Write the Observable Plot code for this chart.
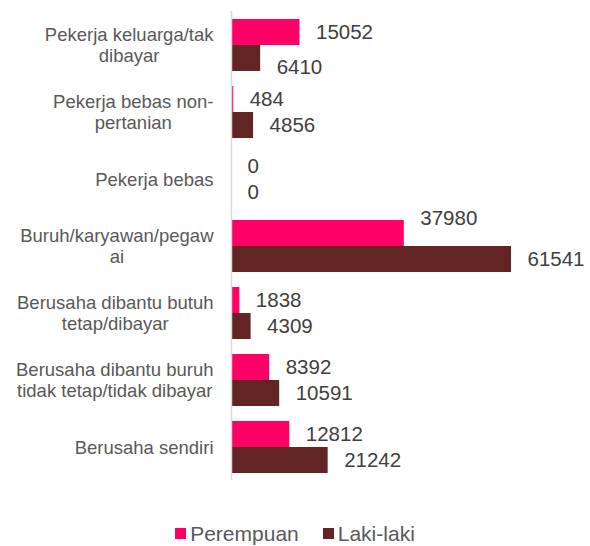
<!DOCTYPE html>
<html>
<head>
<meta charset="utf-8">
<script src="https://cdn.jsdelivr.net/npm/d3@7"></script>
<script src="https://cdn.jsdelivr.net/npm/@observablehq/plot@0.6"></script>
<style>
  html, body { margin: 0; padding: 0; background: #fff; }
  #wrap { position: relative; width: 590px; height: 546px; overflow: hidden; font-family: "Liberation Sans", Arial, sans-serif; }
  #legend { position: absolute; left: 0; top: 521px; width: 590px; height: 25px; display: flex; justify-content: center; align-items: center; font-size: 21px; line-height: 22px; color: #595959; }
  #legend .item { display: flex; align-items: center; }
  #legend .sw { width: 11px; height: 11px; margin-right: 4px; }
  #legend .item + .item { margin-left: 24px; }
</style>
</head>
<body>
<div id="wrap">
  <div id="chart"></div>
  <div id="legend"></div>
</div>
<script>
// ---- data ----
const categories = [
  "Pekerja keluarga/tak dibayar",
  "Pekerja bebas non-pertanian",
  "Pekerja bebas",
  "Buruh/karyawan/pegawai",
  "Berusaha dibantu butuh tetap/dibayar",
  "Berusaha dibantu buruh tidak tetap/tidak dibayar",
  "Berusaha sendiri"
];
const categoryLabels = [
  "Pekerja keluarga/tak\ndibayar",
  "Pekerja bebas non-\npertanian",
  "Pekerja bebas",
  "Buruh/karyawan/pegaw\nai",
  "Berusaha dibantu butuh\ntetap/dibayar",
  "Berusaha dibantu buruh\ntidak tetap/tidak dibayar",
  "Berusaha sendiri"
];
const series = ["Perempuan", "Laki-laki"];
const perempuan = [15052, 484, 0, 37980, 1838, 8392, 12812];
const lakiLaki = [6410, 4856, 0, 61541, 4309, 10591, 21242];
const colors = ["#FF0066", "#632523"];

// ---- table ----
const rows = [];
categories.forEach((c, i) => {
  rows.push({category: c, series: series[0], value: perempuan[i]});
  rows.push({category: c, series: series[1], value: lakiLaki[i]});
});

// label nudges (layout only, mimicking the reference's collision-avoided labels)
const nudge = new Map([
  ["Pekerja keluarga/tak dibayar|Laki-laki", 9],
  ["Buruh/karyawan/pegawai|Perempuan", -15]
]);
const key = d => d.category + "|" + d.series;
const plain = rows.filter(d => !nudge.has(key(d)));
const nudged = rows.filter(d => nudge.has(key(d)));

// category labels: centered text block, right-aligned to the axis gap
const FONT = "'Liberation Sans', Arial, sans-serif";
const LABEL_SIZE = 18.5;
const ctx = document.createElement("canvas").getContext("2d");
ctx.font = `${LABEL_SIZE}px ${FONT}`;
const blockWidth = s => Math.max(...s.split("\n").map(l => ctx.measureText(l).width));
const labelMarks = categories.map((c, i) =>
  Plot.text([c], {fy: d => d, frameAnchor: "left", text: () => categoryLabels[i],
    textAnchor: "middle", dx: -18 - blockWidth(categoryLabels[i]) / 2,
    fontSize: LABEL_SIZE, lineHeight: 1.14, fill: "#595959", clip: false}));

const chart = Plot.plot({
  width: 590,
  height: 520,
  marginLeft: 231,
  marginRight: 40.5,
  marginTop: 8,
  marginBottom: 37,
  style: {fontFamily: FONT, background: "#fff", overflow: "visible"},
  x: {domain: [0, 70000], axis: null},
  y: {domain: series, padding: 0, axis: null},
  fy: {domain: categories, paddingInner: 0.204, paddingOuter: 0.102, axis: null, label: null},
  color: {domain: series, range: colors},
  marks: [
    Plot.barX(rows, {fy: "category", y: "series", x: "value", fill: "series"}),
    Plot.ruleX([0], {stroke: "#d9d9d9", strokeWidth: 1.5, insetTop: -7, insetBottom: -7}),
    Plot.text(plain, {fy: "category", y: "series", x: "value", text: d => String(d.value),
      textAnchor: "start", dx: 16, fontSize: 20.5, fill: "#404040"}),
    ...nudged.map(d => Plot.text([d], {fy: "category", y: "series", x: "value", text: d => String(d.value),
      textAnchor: "start", dx: 16, dy: nudge.get(key(d)), fontSize: 20.5, fill: "#404040"})),
    ...labelMarks
  ]
});
document.getElementById("chart").appendChild(chart);

// ---- legend ----
const legend = document.getElementById("legend");
series.forEach((s, i) => {
  const item = document.createElement("div");
  item.className = "item";
  const sw = document.createElement("span");
  sw.className = "sw";
  sw.style.background = colors[i];
  const t = document.createElement("span");
  t.textContent = s;
  item.appendChild(sw);
  item.appendChild(t);
  legend.appendChild(item);
});
</script>
</body>
</html>
